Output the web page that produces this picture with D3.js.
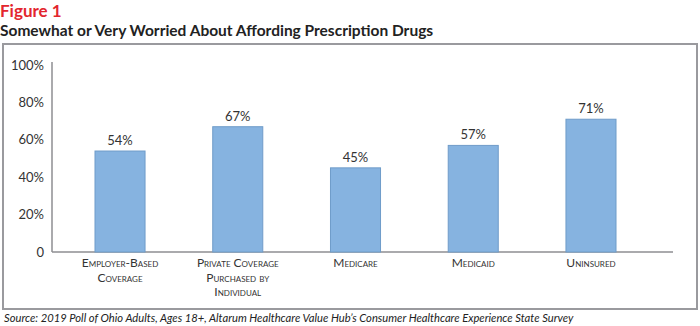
<!DOCTYPE html>
<html>
<head>
<meta charset="utf-8">
<script src="https://d3js.org/d3.v7.min.js"></script>
<style>
  body { margin: 0; background: #fff; }
  svg text { font-family: Lato, "Noto Sans", sans-serif; }
</style>
</head>
<body>
<div id="chart"></div>
<script>
// data
var categories = ["Employer-Based|Coverage", "Private Coverage|Purchased by|Individual", "Medicare", "Medicaid", "Uninsured"];
var values = [54, 67, 45, 57, 71];
var yTicks = [0, 20, 40, 60, 80, 100];

var width = 700, height = 326;

var svg = d3.select("#chart")
    .append("svg")
    .attr("width", width)
    .attr("height", height);

// header
svg.append("text")
    .attr("x", 0).attr("y", 17)
    .style("font-size", "17px").style("font-weight", "bold")
    .style("fill", "#e3262e")
    .text("Figure 1");

svg.append("text")
    .attr("x", 0).attr("y", 36)
    .style("font-size", "15.5px").style("font-weight", "bold")
    .style("fill", "#222")
    .text("Somewhat or Very Worried About Affording Prescription Drugs");

// frame
svg.append("rect")
    .attr("x", 3).attr("y", 44)
    .attr("width", 694).attr("height", 265)
    .style("fill", "none")
    .style("stroke", "#9a9a9e")
    .style("stroke-width", 2);

var x = d3.scaleBand()
    .domain(categories)
    .range([95, 616])
    .paddingInner(0.575)
    .paddingOuter(0);

var y = d3.scaleLinear()
    .domain([0, 100])
    .range([252, 65]);

// axes lines
svg.append("line")
    .attr("x1", 52).attr("x2", 52)
    .attr("y1", 62).attr("y2", y(0))
    .style("stroke", "#8e8e92").style("stroke-width", 1.5);

svg.append("line")
    .attr("x1", 52).attr("x2", 673)
    .attr("y1", y(0)).attr("y2", y(0))
    .style("stroke", "#8e8e92").style("stroke-width", 1.5);

// y tick labels
svg.selectAll("text.ytick")
    .data(yTicks)
    .enter().append("text")
    .attr("class", "ytick")
    .attr("x", 44)
    .attr("y", function(d) { return y(d); })
    .attr("dy", "0.35em")
    .attr("text-anchor", "end")
    .style("font-size", "13px")
    .style("fill", "#333")
    .text(function(d) { return d === 0 ? "0" : d + "%"; });

// bars
svg.selectAll("rect.bar")
    .data(values)
    .enter().append("rect")
    .attr("class", "bar")
    .attr("x", function(d, i) { return x(categories[i]); })
    .attr("width", x.bandwidth())
    .attr("y", function(d) { return y(d); })
    .attr("height", function(d) { return y(0) - y(d); })
    .style("fill", "#86b3e0")
    .style("stroke", "#6f9cc9")
    .style("stroke-width", 1);

// value labels
svg.selectAll("text.val")
    .data(values)
    .enter().append("text")
    .attr("class", "val")
    .attr("x", function(d, i) { return x(categories[i]) + x.bandwidth() / 2; })
    .attr("y", function(d) { return y(d) - 6; })
    .attr("text-anchor", "middle")
    .style("font-size", "13px")
    .style("fill", "#333")
    .text(function(d) { return d + "%"; });

// category labels in small caps, one text per line
var catLines = [];
categories.forEach(function(c) {
    c.split("|").forEach(function(t, i) {
        catLines.push({cat: c, line: t, i: i});
    });
});

svg.selectAll("text.cat")
    .data(catLines)
    .enter().append("text")
    .attr("class", "cat")
    .attr("x", function(d) { return x(d.cat) + x.bandwidth() / 2; })
    .attr("y", function(d) { return 267 + d.i * 14.5; })
    .attr("text-anchor", "middle")
    .style("font-size", "12px")
    .style("font-variant", "small-caps")
    .style("fill", "#333")
    .text(function(d) { return d.line; });

// source
svg.append("text")
    .attr("x", 4).attr("y", 322)
    .style("font-size", "11.2px").style("font-style", "italic")
    .style("fill", "#222")
    .text("Source: 2019 Poll of Ohio Adults, Ages 18+, Altarum Healthcare Value Hub\u2019s Consumer Healthcare Experience State Survey");
</script>
</body>
</html>
